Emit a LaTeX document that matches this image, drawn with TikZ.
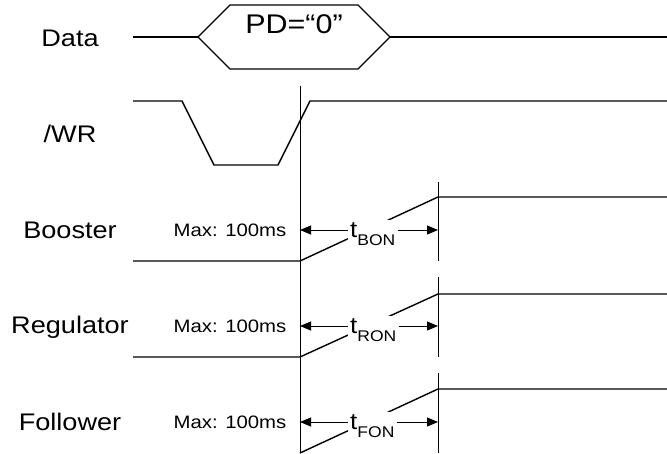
\documentclass[tikz,border=0pt]{standalone}
\usepackage{fontspec}
\setmainfont{Liberation Sans}[FakeStretch=1.13]
\usetikzlibrary{arrows.meta}
\tikzset{
  wave/.style={line width=1.4pt, line join=miter},
  guide/.style={line width=0.9pt},
  dimarrow/.style={line width=0.9pt, -{Triangle[length=11pt,width=9pt]}},
  sig/.style={font=\fontsize{24}{24}\selectfont, anchor=base, inner sep=0pt},
  maxlbl/.style={font=\fontsize{18}{18}\selectfont, anchor=base, inner sep=0pt},
  tlbl/.style={fill=white, inner sep=2pt, anchor=base west, font=\fontsize{23}{23}\selectfont},
}
\newcommand{\tsub}[1]{t\raisebox{-8pt}{\fontsize{15.5}{15.5}\selectfont #1}}
\begin{document}
\begin{tikzpicture}[x=1pt,y=-1pt]
\useasboundingbox (0,0) rectangle (667,453);
% signal names
\node[sig] (ndata) at (70,46) {Data};
\node[sig] (nwr) at (70,142) {/WR};
\node[sig] (nboost) at (70,238) {Booster};
\node[sig] (nreg) at (70,333) {Regulator};
\node[sig] (nfol) at (70,430) {Follower};
% Data
\draw[wave] (133,37) -- (198,37);
\draw[wave] (198,37) -- (230,5) -- (358,5) -- (390,37) -- (358,69) -- (230,69) -- cycle;
\draw[wave] (390,37) -- (667,37);
\node[font=\fontsize{27}{27}\selectfont, anchor=base, inner sep=0pt] (pd) at (294,33) {PD=“0”};
% /WR
\draw[wave] (133,101) -- (182,101) -- (214,165) -- (278,165) -- (310,101) -- (667,101);
% reference verticals
\coordinate (L) at (300,86);
\coordinate (R) at (438,0);
\draw[guide] (L) -- (300,453);
\draw[guide] (438,182) -- (438,261);
\draw[guide] (438,277) -- (438,357);
\draw[guide] (438,373) -- (438,453);
% Booster
\draw[wave] (133,261) -- (300,261) -- (438,197) -- (667,197);
\node[maxlbl] (mb) at (230,236) {Max: 100ms};
\coordinate (ab) at (300,230);
\node[tlbl] (tb) at (348,237) {\tsub{BON}};
\draw[dimarrow] (tb.west |- ab) -- (ab);
\draw[dimarrow] (tb.east |- ab) -- (ab -| R);
% Regulator
\draw[wave] (133,357) -- (300,357) -- (438,294) -- (667,294);
\node[maxlbl] (mr) at (230,332) {Max: 100ms};
\coordinate (ar) at (300,326);
\node[tlbl] (tr) at (348,333) {\tsub{RON}};
\draw[dimarrow] (tr.west |- ar) -- (ar);
\draw[dimarrow] (tr.east |- ar) -- (ar -| R);
% Follower
\draw[wave] (300,453) -- (438,389) -- (667,389);
\node[maxlbl] (mf) at (230,428) {Max: 100ms};
\coordinate (af) at (300,422);
\node[tlbl] (tf) at (348,429) {\tsub{FON}};
\draw[dimarrow] (tf.west |- af) -- (af);
\draw[dimarrow] (tf.east |- af) -- (af -| R);
\end{tikzpicture}
\end{document}
